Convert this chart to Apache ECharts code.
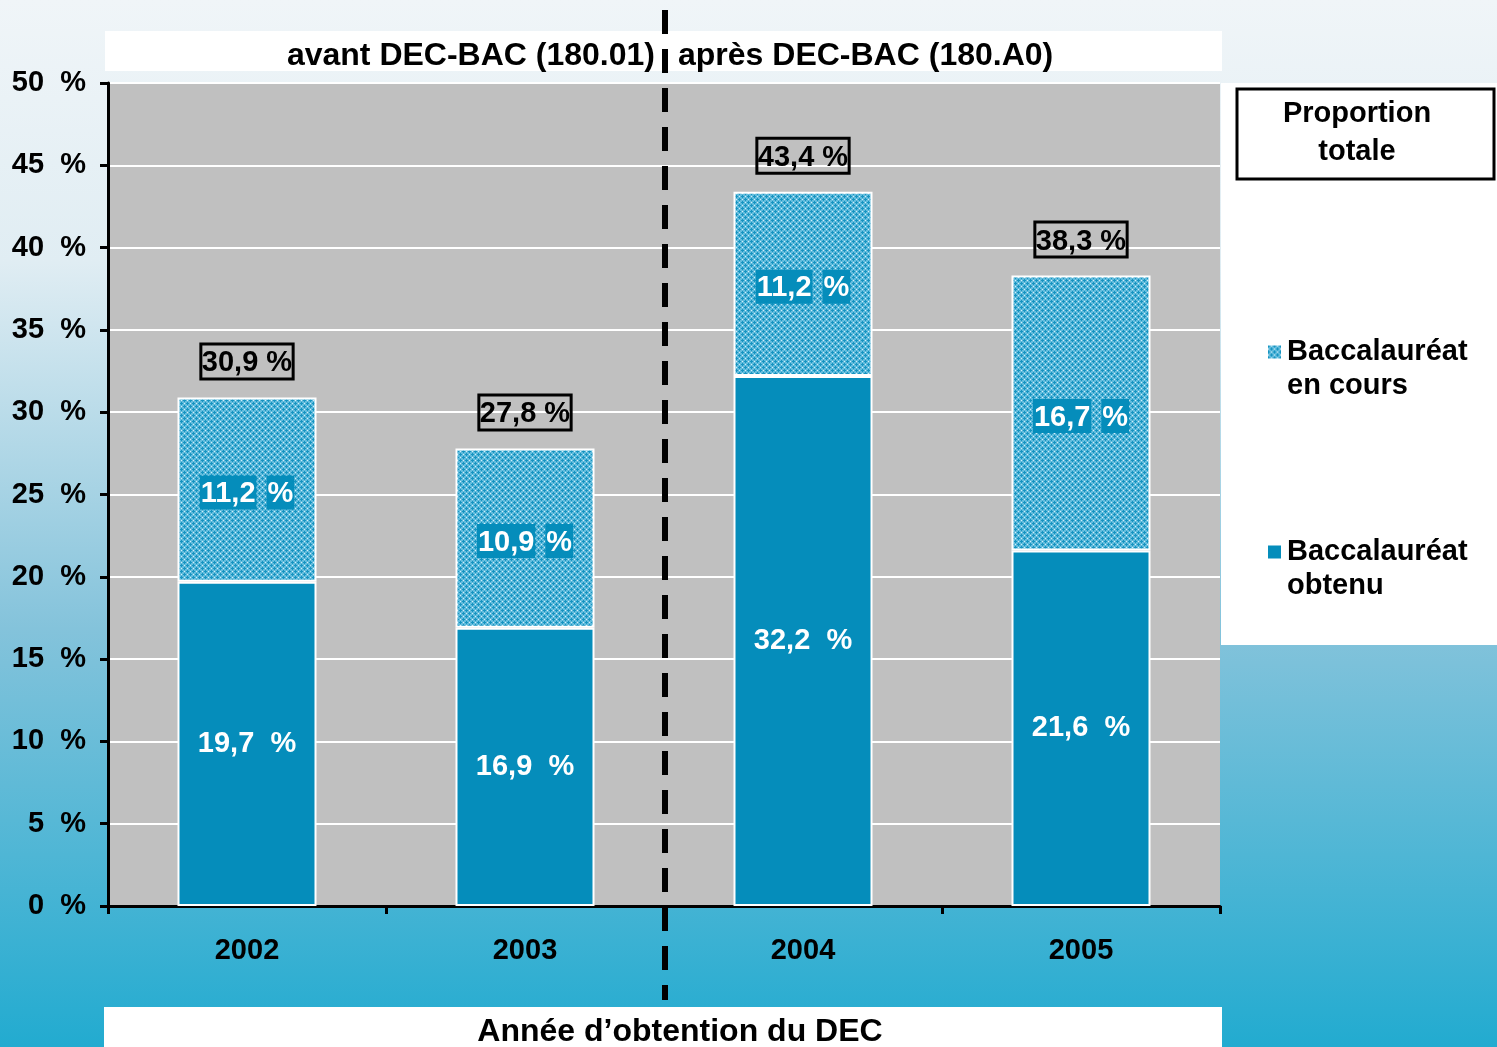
<!DOCTYPE html>
<html>
<head>
<meta charset="utf-8">
<script src="https://cdn.jsdelivr.net/npm/echarts@6/dist/echarts.min.js"></script>
<style>
  html, body { margin: 0; padding: 0; }
  #chart { width: 1497px; height: 1047px; }
</style>
</head>
<body>
<div id="chart"></div>
<script>
// données
var years = ['2002', '2003', '2004', '2005'];
var obtenu = [19.7, 16.9, 32.2, 21.6];
var enCours = [11.2, 10.9, 11.2, 16.7];
var totals = [30.9, 27.8, 43.4, 38.3];
var yTicks = [0, 5, 10, 15, 20, 25, 30, 35, 40, 45, 50];

var FONT = '"Liberation Sans", Arial, sans-serif';
var BLUE = '#058DBB';

// grille du graphique
var G = { left: 108, right: 277, top: 83, bottom: 141 };
var W = 1497, H = 1047;

// motif hachuré
function makePattern() {
  var c = document.createElement('canvas');
  c.width = 6; c.height = 6;
  var ctx = c.getContext('2d');
  ctx.fillStyle = '#62BCDD';
  ctx.fillRect(0, 0, 6, 6);
  ctx.fillStyle = '#1593C0';
  [[1, 0], [0, 1], [1, 1], [2, 1], [1, 2], [4, 3], [3, 4], [4, 4], [5, 4], [4, 5]].forEach(function (p) {
    ctx.fillRect(p[0], p[1], 1, 1);
  });
  ctx.fillStyle = '#D6EEF7';
  [[4, 1], [1, 4]].forEach(function (p) {
    ctx.fillRect(p[0], p[1], 1, 1);
  });
  return c;
}
var hatch = { image: makePattern(), repeat: 'repeat' };

function fr(v) {
  return v.toFixed(1).replace('.', ',');
}

var chart = echarts.init(document.getElementById('chart'));
var midX = G.left + (W - G.left - G.right) / 2;

var option = {
  animation: false,
  backgroundColor: {
    type: 'linear', x: 0, y: 0, x2: 0, y2: 1,
    colorStops: [
      { offset: 0, color: '#F0F5F8' },
      { offset: 0.25, color: '#E0EDF3' },
      { offset: 0.6, color: '#84C3DB' },
      { offset: 1, color: '#22ABD0' }
    ]
  },
  textStyle: { fontFamily: FONT },
  grid: {
    left: G.left, right: G.right, top: G.top, bottom: G.bottom,
    show: true, backgroundColor: '#C0C0C0', borderWidth: 0
  },
  legend: {
    orient: 'vertical',
    left: 1261,
    top: 296,
    itemGap: 98,
    itemWidth: 15,
    itemHeight: 15,
    icon: 'rect',
    data: ['Baccalauréat\nen cours', 'Baccalauréat\nobtenu'],
    // ligne vide en tête : la première ligne du texte tombe au niveau de l'icône
    formatter: function (name) { return '\n' + name; },
    textStyle: {
      fontFamily: FONT, fontSize: 29, fontWeight: 'bold', color: '#000',
      lineHeight: 34
    }
  },
  xAxis: {
    type: 'category',
    data: years,
    axisLine: { lineStyle: { color: '#000', width: 3 } },
    axisTick: { show: true, length: 8, lineStyle: { color: '#000', width: 3 } },
    axisLabel: { color: '#000', fontSize: 29, fontWeight: 'bold', margin: 30, fontFamily: FONT }
  },
  yAxis: {
    type: 'value',
    min: 0, max: 50, interval: 5,
    axisLine: { show: true, lineStyle: { color: '#000', width: 3 } },
    axisTick: { show: true, length: 8, lineStyle: { color: '#000', width: 3 } },
    splitLine: { lineStyle: { color: '#FFFFFF', width: 2 } },
    axisLabel: {
      color: '#000', fontSize: 29, fontWeight: 'bold', margin: 22, fontFamily: FONT,
      padding: [5, 0, 0, 0],
      formatter: function (v) { return yTicks.indexOf(v) >= 0 ? v + '  %' : ''; }
    }
  },
  series: [
    {
      name: 'Baccalauréat\nobtenu',
      type: 'bar',
      stack: 'bac',
      barWidth: '50%',
      data: obtenu,
      itemStyle: { color: BLUE, borderColor: '#FFFFFF', borderWidth: 2 },
      label: {
        show: true, position: 'inside', color: '#FFFFFF',
        fontSize: 29, fontWeight: 'bold', fontFamily: FONT,
        formatter: function (p) { return fr(p.value) + '  %'; }
      }
    },
    {
      name: 'Baccalauréat\nen cours',
      type: 'bar',
      stack: 'bac',
      barWidth: '50%',
      data: enCours,
      itemStyle: { color: hatch, borderColor: '#FFFFFF', borderWidth: 2 },
      label: {
        show: true, position: 'inside', offset: [0, 3],
        formatter: function (p) { return '{b|' + fr(p.value) + '}   {b|%}'; },
        rich: {
          b: {
            color: '#FFFFFF', backgroundColor: BLUE, fontSize: 29, fontWeight: 'bold',
            fontFamily: FONT, padding: [4, 1, 1, 1]
          }
        }
      }
    },
    {
      name: 'Proportion totale',
      type: 'scatter',
      data: totals,
      symbolSize: 1,
      itemStyle: { color: 'rgba(0,0,0,0)' },
      emphasis: { disabled: true },
      label: {
        show: true, position: 'top', distance: 18,
        color: '#000000', opacity: 1, fontSize: 29, fontWeight: 'bold', fontFamily: FONT,
        borderColor: '#000', borderWidth: 3, padding: [5, 1, 1, 1],
        formatter: function (p) { return fr(p.value) + ' %'; }
      }
    }
  ],
  graphic: [
    // zone blanche de la légende
    { type: 'rect', z: -1, shape: { x: 1221, y: 83, width: 276, height: 562 }, style: { fill: '#FFFFFF' } },
    // bandeau du haut
    { type: 'rect', z: 1, shape: { x: 105, y: 31, width: 1117, height: 40 }, style: { fill: '#FFFFFF' } },
    {
      type: 'text', z: 2, x: 655, y: 56,
      style: { text: 'avant DEC-BAC (180.01)', align: 'right', verticalAlign: 'middle', font: 'bold 32px ' + FONT, fill: '#000' }
    },
    {
      type: 'text', z: 2, x: 678, y: 56,
      style: { text: 'après DEC-BAC (180.A0)', align: 'left', verticalAlign: 'middle', font: 'bold 32px ' + FONT, fill: '#000' }
    },
    // bandeau du bas
    { type: 'rect', z: 1, shape: { x: 104, y: 1007, width: 1118, height: 40 }, style: { fill: '#FFFFFF' } },
    {
      type: 'text', z: 2, x: 680, y: 1032,
      style: { text: 'Année d\u2019obtention du DEC', align: 'center', verticalAlign: 'middle', font: 'bold 32px ' + FONT, fill: '#000' }
    },
    // boîte "Proportion totale"
    {
      type: 'rect', z: 2, shape: { x: 1237, y: 89, width: 257, height: 90 },
      style: { fill: '#FFFFFF', stroke: '#000', lineWidth: 3 }
    },
    {
      type: 'text', z: 3, x: 1357, y: 133,
      style: { text: 'Proportion\ntotale', align: 'center', verticalAlign: 'middle', font: 'bold 29px ' + FONT, lineHeight: 38, fill: '#000' }
    },
    // ligne pointillée avant/après
    {
      type: 'line', z: 10,
      shape: { x1: midX + 1, y1: 10, x2: midX + 1, y2: 1000 },
      style: { stroke: '#000', lineWidth: 6, lineDash: [24, 15] }
    }
  ]
};

chart.setOption(option);
</script>
</body>
</html>
